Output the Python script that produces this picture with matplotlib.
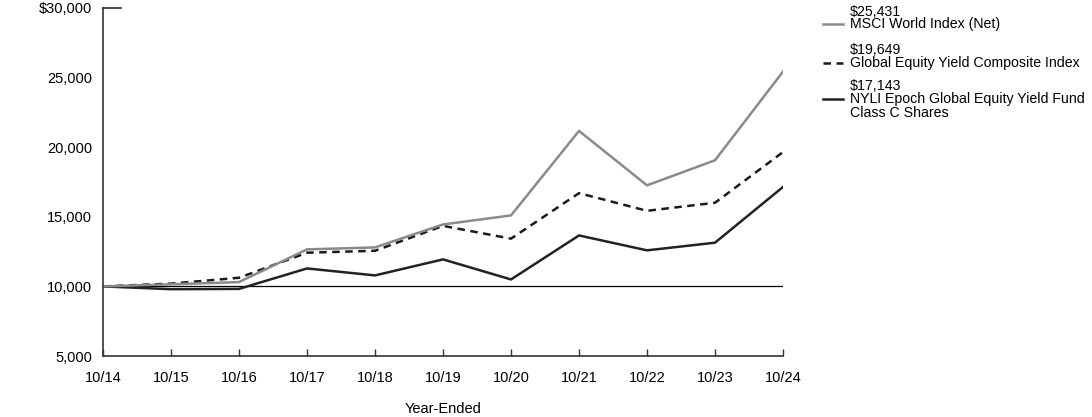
"""Growth of $10,000: fund vs. benchmark indexes, year-ended 10/14-10/24."""

import matplotlib

matplotlib.use("Agg")
import matplotlib.pyplot as plt  # noqa: E402
from matplotlib.lines import Line2D  # noqa: E402

plt.rcParams["font.family"] = ["Liberation Sans", "DejaVu Sans"]

years = ["10/14", "10/15", "10/16", "10/17", "10/18", "10/19",
         "10/20", "10/21", "10/22", "10/23", "10/24"]
msci = [10000, 10150, 10310, 12660, 12800, 14450, 15100, 21170, 17260, 19060, 25431]
composite = [10000, 10200, 10620, 12420, 12560, 14350, 13430, 16700, 15430, 16010, 19649]
fund = [10000, 9800, 9820, 11290, 10790, 11940, 10500, 13660, 12590, 13140, 17143]

series = [
    ("$25,431", "MSCI World Index (Net)", msci, "#8a8a8a", "-"),
    ("$19,649", "Global Equity Yield Composite Index", composite, "#1a1a1a", (0, (3, 2.2))),
    ("$17,143", "NYLI Epoch Global Equity Yield Fund\nClass C Shares", fund, "#222222", "-"),
]
yticks = [5000, 10000, 15000, 20000, 25000, 30000]
ytick_labels = ["5,000", "10,000", "15,000", "20,000", "25,000", "$30,000"]

W, H = 1092, 417
FS = 10.5
LFS = 10.2
fig = plt.figure(figsize=(W / 100, H / 100), dpi=100)
ax = fig.add_axes([103 / W, (H - 356) / H, 680 / W, 348 / H])

x = list(range(len(years)))
ax.axhline(10000, color="black", lw=0.9, zorder=1)
for _, _, vals, c, ls in reversed(series):
    ax.plot(x, vals, color=c, ls=ls, lw=1.8, zorder=2)

ax.set_xlim(0, len(years) - 1)
ax.set_ylim(5000, 30000)
ax.set_xticks(x, years)
ax.set_yticks(yticks, ytick_labels)
ax.tick_params(axis="x", direction="in", length=5, width=1, color="#333333",
               labelsize=FS, pad=11)
ax.tick_params(axis="y", length=0, labelsize=FS, pad=8)
ax.axhline(30000, xmax=18 / 680, color="#333333", lw=1.2, clip_on=False)
for side in ("top", "right"):
    ax.spines[side].set_visible(False)
for side in ("left", "bottom"):
    ax.spines[side].set_color("#333333")
    ax.spines[side].set_linewidth(1.2)
ax.set_xlabel("Year-Ended", fontsize=FS, labelpad=12)

# legend drawn by hand: value above name, handle beside the name
legend_y = [24, 63, 99]
for (val, name, _, c, ls), yp in zip(series, legend_y):
    yf = 1 - yp / H
    fig.add_artist(Line2D([823 / W, 843 / W], [yf, yf], color=c, ls=ls, lw=1.8,
                          transform=fig.transFigure))
    fig.text(850 / W, 1 - (yp - 12.5) / H, val, fontsize=LFS, va="center")
    fig.text(850 / W, yf + 7 / H, name, fontsize=LFS, va="top", linespacing=0.97)

fig.savefig("out.png", dpi=100)
